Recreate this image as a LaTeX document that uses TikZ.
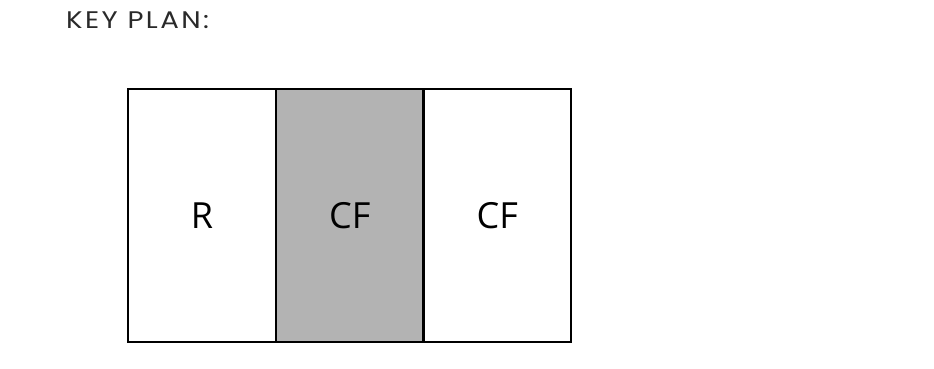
\documentclass[tikz,border=0pt]{standalone}
\usepackage{fontspec}
\setmainfont{Open Sans}
\newfontfamily\titlefont[LetterSpace=10,FakeStretch=1.15]{Poppins}
\definecolor{zonegray}{HTML}{B3B3B3}
\definecolor{titlegray}{HTML}{2A2A2A}
\begin{document}
\begin{tikzpicture}[x=1pt,y=-1pt,
  zone/.style={draw=black,line width=2.5pt,minimum height=253pt,inner sep=0pt,outer sep=0pt,
    font=\fontsize{36}{40}\selectfont},
  heading/.style={anchor=base west,inner sep=0pt,text=titlegray}]
\useasboundingbox (0,0) rectangle (934,368);
\node[zone,minimum width=148pt] (r) at (202,215.5) {R};
\node[zone,minimum width=147.5pt,fill=zonegray] (cf1) at (349.75,215.5) {CF};
\node[zone,minimum width=147.5pt] (cf2) at (497.25,215.5) {CF};
\node[heading] (title) at (66,28) {\titlefont\fontsize{24}{28}\selectfont KEY PLAN:};
\end{tikzpicture}
\end{document}
